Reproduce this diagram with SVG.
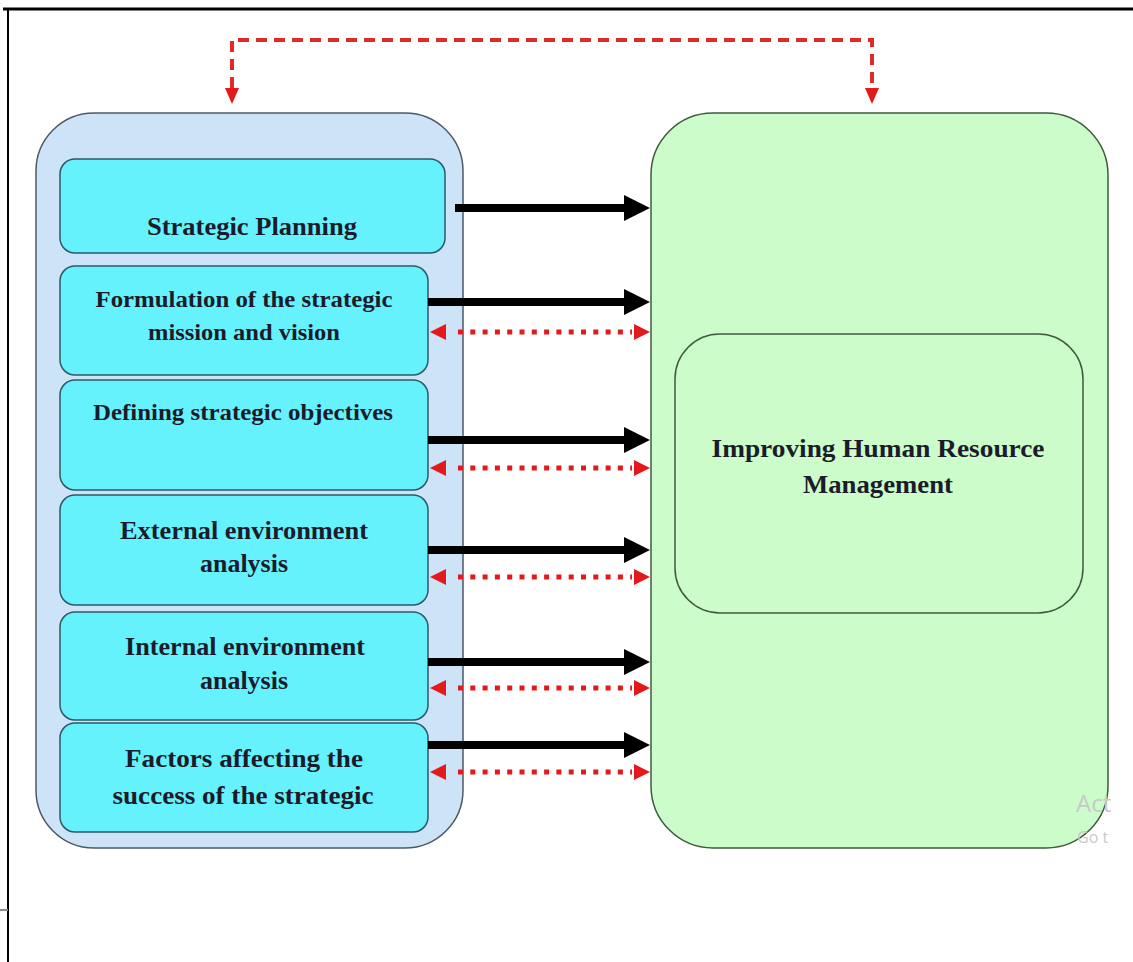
<svg xmlns="http://www.w3.org/2000/svg" width="1133" height="962" viewBox="0 0 1133 962">
<style>
.frame{stroke:#000;fill:none}
.outerL{fill:#cde3f8;stroke:#4d5866;stroke-width:1.5}
.box{fill:#66f2fc;stroke:#2e5866;stroke-width:1.5}
.outerR{fill:#ccfcc9;stroke:#3f5a3f;stroke-width:1.5}
.lbl{font-family:"Liberation Serif","Times New Roman",serif;font-weight:bold;fill:#1b1b2b;text-anchor:middle}
.blk{stroke:#000;stroke-width:8;fill:none}
.red{stroke:#e3191c;stroke-width:5;stroke-dasharray:5 7.3;fill:none}
.dash{stroke:#e02a2a;stroke-width:4;stroke-dasharray:11 7;fill:none}
.hb{fill:#000}
.hr{fill:#e3191c}
.wm{font-family:"Open Sans","Liberation Sans",sans-serif;fill:#c9c9c9}
</style>
<defs>
<clipPath id="wmclip"><rect x="0" y="0" width="1118" height="962"/></clipPath>
</defs>
<rect width="1133" height="962" fill="#fff"/>
<g id="frame">
<line class="frame" x1="3" y1="9" x2="1133" y2="9" stroke-width="3"/>
<line class="frame" x1="8" y1="8" x2="8" y2="962" stroke-width="2"/>
<line x1="0" y1="910" x2="8" y2="910" stroke="#888" stroke-width="2"/>
</g>
<g id="left-container">
<rect class="outerL" x="36" y="113" width="427" height="735" rx="58" ry="58"/>
</g>
<g id="right-container">
<rect class="outerR" x="651" y="113" width="457" height="735" rx="62" ry="62"/>
</g>
<g id="node-strategic-planning">
<rect class="box" x="60" y="159" width="385" height="94" rx="15"/>
<text class="lbl" x="252" y="235" font-size="26" textLength="210" lengthAdjust="spacingAndGlyphs">Strategic Planning</text>
</g>
<g id="node-formulation">
<rect class="box" x="60" y="266" width="368" height="109" rx="15"/>
<text class="lbl" x="244" y="307" font-size="24" textLength="297" lengthAdjust="spacingAndGlyphs">Formulation of the strategic</text>
<text class="lbl" x="244" y="340" font-size="24" textLength="192" lengthAdjust="spacingAndGlyphs">mission and vision</text>
</g>
<g id="node-objectives">
<rect class="box" x="60" y="380" width="368" height="110" rx="15"/>
<text class="lbl" x="243" y="420" font-size="24" textLength="300" lengthAdjust="spacingAndGlyphs">Defining strategic objectives</text>
</g>
<g id="node-external">
<rect class="box" x="60" y="495" width="368" height="110" rx="15"/>
<text class="lbl" x="244" y="539" font-size="26" textLength="248" lengthAdjust="spacingAndGlyphs">External environment</text>
<text class="lbl" x="244" y="572" font-size="26" textLength="88" lengthAdjust="spacingAndGlyphs">analysis</text>
</g>
<g id="node-internal">
<rect class="box" x="60" y="612" width="368" height="108" rx="15"/>
<text class="lbl" x="245" y="655" font-size="26" textLength="240" lengthAdjust="spacingAndGlyphs">Internal  environment</text>
<text class="lbl" x="244" y="689" font-size="26" textLength="88" lengthAdjust="spacingAndGlyphs">analysis</text>
</g>
<g id="node-factors">
<rect class="box" x="60" y="723" width="368" height="109" rx="15"/>
<text class="lbl" x="244" y="767" font-size="26" textLength="238" lengthAdjust="spacingAndGlyphs">Factors affecting the</text>
<text class="lbl" x="243" y="804" font-size="26" textLength="261" lengthAdjust="spacingAndGlyphs">success of the strategic</text>
</g>
<g id="node-hrm">
<rect class="outerR" x="675" y="334" width="408" height="279" rx="45" ry="45"/>
<text class="lbl" x="878" y="457" font-size="26" textLength="333" lengthAdjust="spacingAndGlyphs">Improving  Human  Resource</text>
<text class="lbl" x="878" y="493" font-size="26" textLength="150" lengthAdjust="spacingAndGlyphs">Management</text>
</g>
<g id="connectors">
<polyline class="dash" points="232,88 232,40 872,40 872,88"/>
<polygon class="hr" points="225,88 239,88 232,104"/>
<polygon class="hr" points="865,88 879,88 872,104"/>
<line class="blk" x1="455" y1="208" x2="628" y2="208"/>
<polygon class="hb" points="624,195 650,208 624,221"/>
<line class="blk" x1="428" y1="302" x2="628" y2="302"/>
<polygon class="hb" points="624,289 650,302 624,315"/>
<line class="blk" x1="428" y1="440" x2="628" y2="440"/>
<polygon class="hb" points="624,427 650,440 624,453"/>
<line class="blk" x1="428" y1="550" x2="628" y2="550"/>
<polygon class="hb" points="624,537 650,550 624,563"/>
<line class="blk" x1="428" y1="662" x2="628" y2="662"/>
<polygon class="hb" points="624,649 650,662 624,675"/>
<line class="blk" x1="428" y1="745" x2="628" y2="745"/>
<polygon class="hb" points="624,732 650,745 624,758"/>
<line class="red" x1="458" y1="332" x2="632" y2="332"/>
<polygon class="hr" points="446,324 430,332 446,340"/>
<polygon class="hr" points="634,324 650,332 634,340"/>
<line class="red" x1="458" y1="468" x2="632" y2="468"/>
<polygon class="hr" points="446,460 430,468 446,476"/>
<polygon class="hr" points="634,460 650,468 634,476"/>
<line class="red" x1="458" y1="577" x2="632" y2="577"/>
<polygon class="hr" points="446,569 430,577 446,585"/>
<polygon class="hr" points="634,569 650,577 634,585"/>
<line class="red" x1="458" y1="688" x2="632" y2="688"/>
<polygon class="hr" points="446,680 430,688 446,696"/>
<polygon class="hr" points="634,680 650,688 634,696"/>
<line class="red" x1="458" y1="772" x2="632" y2="772"/>
<polygon class="hr" points="446,764 430,772 446,780"/>
<polygon class="hr" points="634,764 650,772 634,780"/>
</g>
<g id="watermark" clip-path="url(#wmclip)">
<text class="wm" x="1076" y="812" font-size="24">Act</text>
<text class="wm" x="1077" y="843" font-size="16">Go t</text>
</g>
</svg>
